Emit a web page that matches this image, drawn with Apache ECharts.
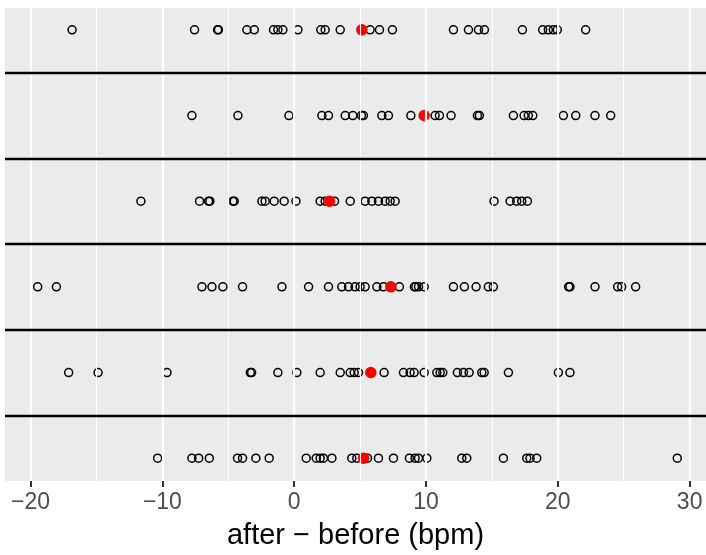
<!DOCTYPE html>
<html><head><meta charset="utf-8">
<script src="https://cdn.jsdelivr.net/npm/echarts@6/dist/echarts.min.js"></script>
<style>html,body{margin:0;padding:0;background:#fff}#c{width:706px;height:555px}</style>
</head><body><div id="c"></div>
<script>
// values (after - before, bpm), one strip per group, top to bottom
const group1 = [-16.85, -7.56, -5.81, -5.75, -3.59, -3.03, -1.57, -1.24, -0.86, 0.28, 2.02, 2.35, 3.49, 5.76, 6.47, 7.45, 12.08, 13.22, 13.98, 14.43, 17.31, 18.85, 19.28, 19.66, 19.96, 22.11];
const group2 = [-7.76, -4.27, -0.40, 2.10, 2.60, 3.87, 4.45, 5.10, 5.25, 6.65, 7.15, 8.85, 10.69, 11.02, 11.90, 13.90, 14.05, 16.63, 17.44, 17.76, 18.10, 20.42, 21.36, 22.82, 24.01];
const group3 = [-11.63, -7.18, -6.50, -6.40, -4.65, -4.55, -2.45, -2.20, -1.52, -0.76, 0.13, 1.97, 2.35, 3.06, 4.25, 5.38, 5.89, 6.39, 6.90, 7.28, 7.66, 15.16, 16.38, 16.88, 17.26, 17.69];
const group4 = [-19.46, -18.04, -7.00, -6.24, -5.41, -3.92, -0.93, 1.09, 2.60, 3.61, 4.12, 4.62, 5.00, 5.38, 6.27, 6.77, 7.98, 9.12, 9.22, 9.43, 9.86, 12.08, 12.91, 13.80, 14.73, 15.11, 20.82, 20.92, 22.82, 24.54, 24.84, 25.90];
const group5 = [-17.11, -14.88, -9.65, -3.33, -3.23, -1.24, 0.20, 1.97, 3.49, 4.25, 4.55, 4.88, 6.82, 8.29, 8.79, 9.10, 9.86, 10.82, 11.07, 11.27, 12.38, 12.84, 13.27, 14.23, 14.41, 16.25, 20.04, 20.92];
const group6 = [-10.36, -7.76, -7.25, -6.44, -4.30, -3.92, -2.91, -1.90, 0.91, 1.67, 1.97, 2.22, 2.86, 4.37, 4.75, 5.56, 6.39, 7.53, 8.74, 9.17, 9.43, 10.06, 12.71, 13.09, 15.87, 17.64, 17.89, 18.40, 29.06];
const means = [5.13, 9.86, 2.68, 7.33, 5.81, 5.26];
const majorTicks = [-20, -10, 0, 10, 20, 30];
const minorTicks = [-15, -5, 5, 15, 25];
const panelBreaks = [1.5, 2.5, 3.5, 4.5, 5.5];
const xTitle = 'after \u2212 before (bpm)';

const groups = [group1, group2, group3, group4, group5, group6];
const points = [];
groups.forEach((g, i) => { const y = groups.length - i; g.forEach(v => points.push([v, y])); });
const meanPts = means.map((m, i) => [m, groups.length - i]);

const chart = echarts.init(document.getElementById('c'), null, {renderer: 'canvas'});
const FONT = 'Liberation Sans, Arial, Helvetica, sans-serif';
chart.setOption({
  animation: false,
  grid: {left: 5, right: 0, top: 8, bottom: 70, show: true, backgroundColor: '#EBEBEB', borderWidth: 0},
  xAxis: {
    type: 'value', min: -21.94, max: 31.24,
    axisLine: {show: false},
    splitLine: {show: false},
    axisTick: {show: true, customValues: majorTicks, length: 6, lineStyle: {color: '#333333', width: 2}},
    axisLabel: {show: true, customValues: majorTicks, formatter: v => v < 0 ? '\u2212' + Math.abs(v) : String(v),
      color: '#4D4D4D', fontSize: 23, fontFamily: FONT, margin: 10},
    name: xTitle, nameLocation: 'middle', nameGap: 40,
    nameTextStyle: {color: '#000000', fontSize: 29, fontFamily: FONT}
  },
  yAxis: {type: 'value', min: 0.734, max: 6.255, show: false},
  series: [
    {type: 'scatter', data: [], silent: true, z: 1,
     markLine: {silent: true, symbol: 'none', label: {show: false}, animation: false,
       data: minorTicks.map(v => ({xAxis: v, lineStyle: {color: '#FFFFFF', width: 1.1, type: 'solid', opacity: 1}}))
         .concat(majorTicks.map(v => ({xAxis: v, lineStyle: {color: '#FFFFFF', width: 2.2, type: 'solid', opacity: 1}})))}},
    {type: 'scatter', data: [], silent: true, z: 2,
     markLine: {silent: true, symbol: 'none', label: {show: false}, animation: false,
       data: panelBreaks.map(v => ({yAxis: v, lineStyle: {color: '#000000', width: 2.3, type: 'solid', opacity: 1}}))}},
    {type: 'scatter', data: points, symbol: 'circle', symbolSize: 8, z: 3, silent: true,
     itemStyle: {color: 'rgba(0,0,0,0)', borderColor: '#000000', borderWidth: 1.5, opacity: 1}},
    {type: 'scatter', data: meanPts, symbol: 'circle', symbolSize: 11.5, z: 4, silent: true,
     itemStyle: {color: '#FF0000', opacity: 1}}
  ]
});
</script></body></html>
